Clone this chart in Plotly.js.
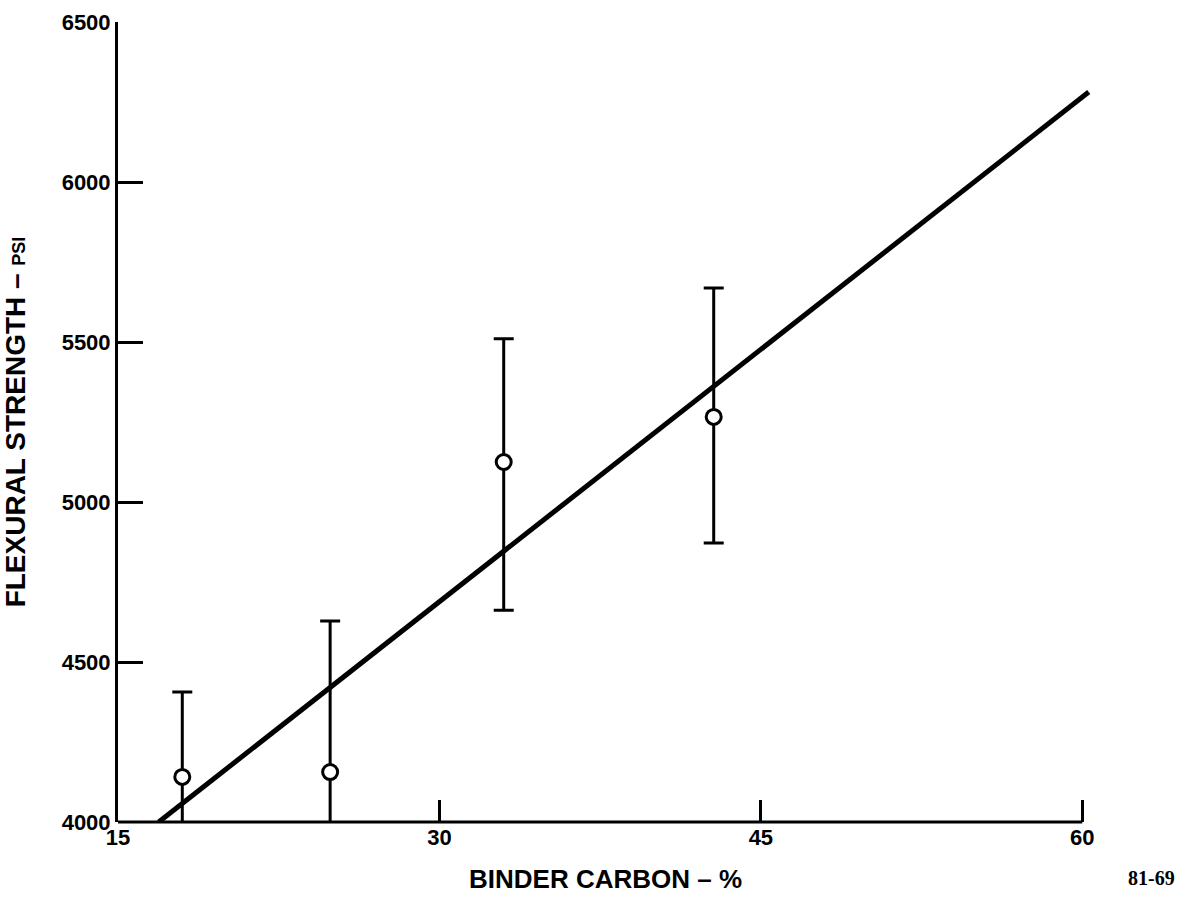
<!DOCTYPE html>
<html>
<head>
<meta charset="utf-8">
<script src="https://cdn.plot.ly/plotly-3.0.1.min.js"></script>
<style>
  html, body { margin: 0; padding: 0; background: #fff; }
  #chart { width: 1185px; height: 901px; }
</style>
</head>
<body>
<div id="chart"></div>
<script>
// Data
const binderCarbon = [18.0, 24.9, 33.0, 42.8];          // %
const flexStrength = [4141, 4156, 5125, 5266];          // psi (mean)
const errUpper = [265, 472, 385, 403];                   // psi above mean
const errLower = [265, 472, 463, 394];                   // psi below mean
const fitX = [16.9, 60.3];                               // regression line ends
const fitY = [4000, 6281];
const xTicks = [15, 30, 45, 60];
const yTicks = [4000, 4500, 5000, 5500, 6000, 6500];

const FONT = "Liberation Sans, Arial, Helvetica, sans-serif";

const traces = [
  {
    x: fitX, y: fitY, mode: 'lines', type: 'scatter',
    line: { color: '#000', width: 5 }, hoverinfo: 'skip', showlegend: false
  },
  {
    x: binderCarbon, y: flexStrength, mode: 'markers', type: 'scatter',
    marker: { symbol: 'circle', size: 15, color: '#fff', line: { color: '#000', width: 3 } },
    error_y: { type: 'data', symmetric: false, array: errUpper, arrayminus: errLower,
               color: '#000', thickness: 3, width: 10 },
    showlegend: false
  }
];

const layout = {
  width: 1185, height: 901,
  margin: { l: 118, r: 92, t: 22, b: 79 },
  paper_bgcolor: '#fff', plot_bgcolor: '#fff',
  showlegend: false,
  xaxis: {
    range: [15, 60.5], tickvals: xTicks, ticktext: xTicks.map(String),
    showgrid: false, zeroline: false, showline: false,
    ticks: 'inside', ticklen: 22, tickwidth: 3, tickcolor: '#000',
    tickfont: { family: FONT, size: 22, color: '#000', weight: 'bold' },
    title: { text: 'BINDER CARBON – %', standoff: 20,
             font: { family: FONT, size: 26, color: '#000', weight: 'bold' } }
  },
  yaxis: {
    range: [4000, 6500], tickvals: yTicks, ticktext: yTicks.map(String),
    showgrid: false, zeroline: false, showline: true, linewidth: 3, linecolor: '#000',
    ticks: 'inside', ticklen: 25, tickwidth: 3, tickcolor: '#000',
    tickfont: { family: FONT, size: 22, color: '#000', weight: 'bold' },
    title: { text: 'FLEXURAL STRENGTH – <span style="font-size:18px">PSI</span>', standoff: 28,
             font: { family: FONT, size: 28, color: '#000', weight: 'bold' } }
  },
  shapes: [
    { type: 'line', xref: 'paper', yref: 'paper',
      x0: 0, x1: (60 - 15) / (60.5 - 15), y0: 0, y1: 0,
      line: { color: '#000', width: 3 } }
  ],
  annotations: [
    { text: '81-69', xref: 'paper', yref: 'paper', x: 1.0595, y: -0.07,
      showarrow: false, xanchor: 'center', yanchor: 'middle',
      font: { family: 'Liberation Serif, Times New Roman, serif', size: 20, color: '#000', weight: 'bold' } }
  ]
};

Plotly.newPlot('chart', traces, layout, { displayModeBar: false, staticPlot: true });
</script>
</body>
</html>
